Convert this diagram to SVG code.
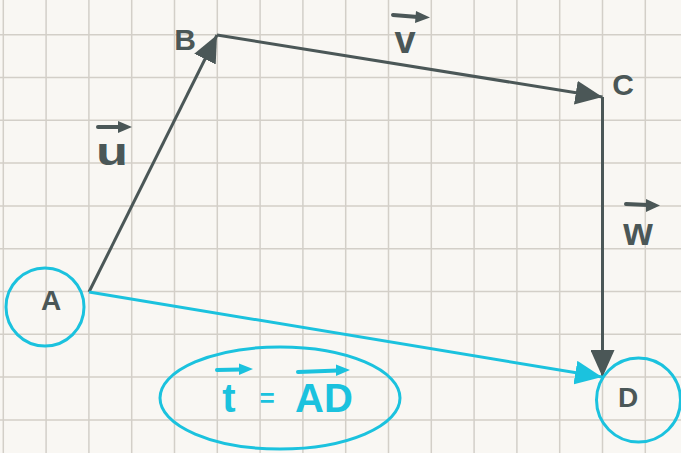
<svg xmlns="http://www.w3.org/2000/svg" width="681" height="453" viewBox="0 0 681 453">
<style>
.grid{stroke:#d3cfc8;stroke-width:1.5;fill:none}
.dark{stroke:#4b5757;stroke-width:3;fill:none}
.cyan{stroke:#1bc2de;stroke-width:3;fill:none}
.lbl{font-family:"Liberation Sans",Arial,sans-serif;font-weight:700;fill:#4b5757;text-anchor:middle}
.clbl{font-family:"Liberation Sans",Arial,sans-serif;font-weight:700;fill:#1bc2de;text-anchor:middle}
.vd{stroke:#4b5757;stroke-width:4;stroke-linecap:round;fill:none}
.vc{stroke:#1bc2de;stroke-width:4;stroke-linecap:round;fill:none}
</style>
<defs>
<marker id="ad" viewBox="0 0 9 8" refX="9" refY="4" markerWidth="9" markerHeight="8" orient="auto" markerUnits="strokeWidth"><path d="M0,0 L9,4 L0,8 z" fill="#4b5757"/></marker>
<marker id="ac" viewBox="0 0 9 8" refX="9" refY="4" markerWidth="9" markerHeight="8" orient="auto" markerUnits="strokeWidth"><path d="M0,0 L9,4 L0,8 z" fill="#1bc2de"/></marker>
<marker id="sd" viewBox="0 0 4 4" refX="2" refY="2" markerWidth="4" markerHeight="4" orient="auto" markerUnits="userSpaceOnUse" overflow="visible"><path d="M0,0 L4,2 L0,4 z" fill="#4b5757" transform="scale(1)"/></marker>
<marker id="sc" viewBox="0 0 4 4" refX="2" refY="2" markerWidth="4" markerHeight="4" orient="auto" markerUnits="userSpaceOnUse" overflow="visible"><path d="M0,0 L4,2 L0,4 z" fill="#1bc2de"/></marker>
</defs>
<rect width="681" height="453" fill="#f9f7f3"/>
<path class="grid" d="M3.3,0V453M46.1,0V453M88.9,0V453M131.7,0V453M174.5,0V453M217.3,0V453M260.1,0V453M302.9,0V453M345.7,0V453M388.5,0V453M431.3,0V453M474.1,0V453M516.9,0V453M559.7,0V453M602.5,0V453M645.3,0V453M0,34.7H681M0,77.5H681M0,120.3H681M0,163.1H681M0,205.9H681M0,248.7H681M0,291.5H681M0,334.3H681M0,377.1H681M0,419.9H681"/>
<g id="connectors">
<line class="dark" x1="89" y1="292" x2="217" y2="35" marker-end="url(#ad)"/>
<line class="dark" x1="217" y1="35" x2="602.5" y2="97" marker-end="url(#ad)"/>
<line class="dark" x1="602.5" y1="97" x2="602.5" y2="377" marker-end="url(#ad)"/>
<line class="cyan" x1="89" y1="292" x2="602" y2="377" marker-end="url(#ac)"/>
<g id="label-u"><path class="vd" d="M98,127 L120,127"/><path d="M118,121 L132,127 L118,133 z" fill="#4b5757"/><text class="lbl" x="112" y="165" font-size="38" textLength="32" lengthAdjust="spacingAndGlyphs">u</text></g>
<g id="label-v"><path class="vd" d="M393,15 L418,17"/><path d="M416,11 L430,17.5 L415,23 z" fill="#4b5757"/><text class="lbl" x="405" y="53" font-size="38">v</text></g>
<g id="label-w"><path class="vd" d="M626,204 L648,205"/><path d="M646,199 L660,205.5 L646,212 z" fill="#4b5757"/><text class="lbl" x="638" y="245" font-size="38">w</text></g>
</g>
<g id="node-A"><circle class="cyan" cx="45" cy="307" r="39"/><text class="lbl" x="51" y="310" font-size="28">A</text></g>
<g id="node-B"><text class="lbl" x="185" y="50" font-size="30">B</text></g>
<g id="node-C"><text class="lbl" x="623" y="95" font-size="30">C</text></g>
<g id="node-D"><circle class="cyan" cx="638.5" cy="400" r="42"/><text class="lbl" x="628" y="407" font-size="28">D</text></g>
<g id="node-t">
<ellipse class="cyan" cx="280" cy="398" rx="120" ry="51"/>
<path class="vc" d="M217,370 L241,369.5"/><path d="M239,363.5 L253,369 L239,375 z" fill="#1bc2de"/>
<path class="vc" d="M298,372 L338,370.5"/><path d="M336,364.5 L350,370 L336,376 z" fill="#1bc2de"/>
<text class="clbl" x="229" y="412" font-size="40">t</text>
<text class="clbl" x="267" y="407" font-size="26">=</text>
<text class="clbl" x="324" y="412" font-size="40">AD</text>
</g>
</svg>
